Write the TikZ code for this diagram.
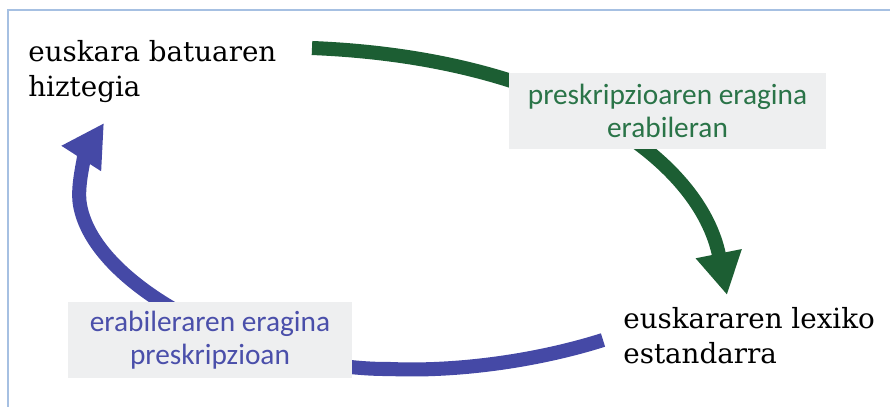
\documentclass[tikz,border=0pt]{standalone}
\usepackage{fontspec}
\setmainfont{DejaVu Serif}
\newfontfamily\etiketafont{Carlito}
\usetikzlibrary{arrows.meta}

\definecolor{markoa}{HTML}{A6C0E2}
\definecolor{berdea}{HTML}{1C5E33}
\definecolor{berdetxt}{HTML}{2A7448}
\definecolor{urdina}{HTML}{4549A6}
\definecolor{urdintxt}{HTML}{4A4FAA}
\definecolor{kutxa}{HTML}{EEEFF0}

\tikzset{
    terminoa/.style={anchor=north west, inner sep=0pt, align=left,
        font=\fontsize{15.8}{19.9}\selectfont},
    etiketa/.style={fill=kutxa, inner sep=0pt, minimum height=1.52cm, align=center,
        font=\etiketafont\fontsize{16.7}{18.9}\selectfont},
    gezia/.style={line width=8pt, -{Triangle[length=24pt,width=25pt]}},
}

\begin{document}
\begin{tikzpicture}[x=0.02cm,y=-0.02cm]
                \useasboundingbox (0,0) rectangle (890,407);
                \draw[markoa, line width=1pt] (890,10) -- (8,10) -- (8,407);
                % terminoak
                \node[terminoa] (hiztegia) at (28,40) {euskara batuaren\\hiztegia};
                \node[terminoa] (lexikoa) at (623,307) {euskararen lexiko\\estandarra};
                % gezien muturrak
                \coordinate (g0) at (312,48);
                \coordinate (g1) at (727,295);
                \coordinate (u0) at (603,340);
                \coordinate (u1) at (104,123);
                \draw[gezia, berdea] (g0) .. controls (560,58) and (700,160) .. (g1);
                \draw[gezia, urdina] (u0) .. controls (540,360) and (460,372) .. (390,369)
                    .. controls (260,370) and (95,290) .. (80,205)
                    .. controls (76,183) and (88,148) .. (u1);
                % etiketak
                \node[etiketa, minimum width=6.34cm, text=berdetxt] (presk) at (667.5,111)
                    {preskripzioaren eragina\\erabileran};
                \node[etiketa, minimum width=5.68cm, text=urdintxt] (erabil) at (210,340)
                    {erabileraren eragina\\preskripzioan};
            \end{tikzpicture}
\end{document}
